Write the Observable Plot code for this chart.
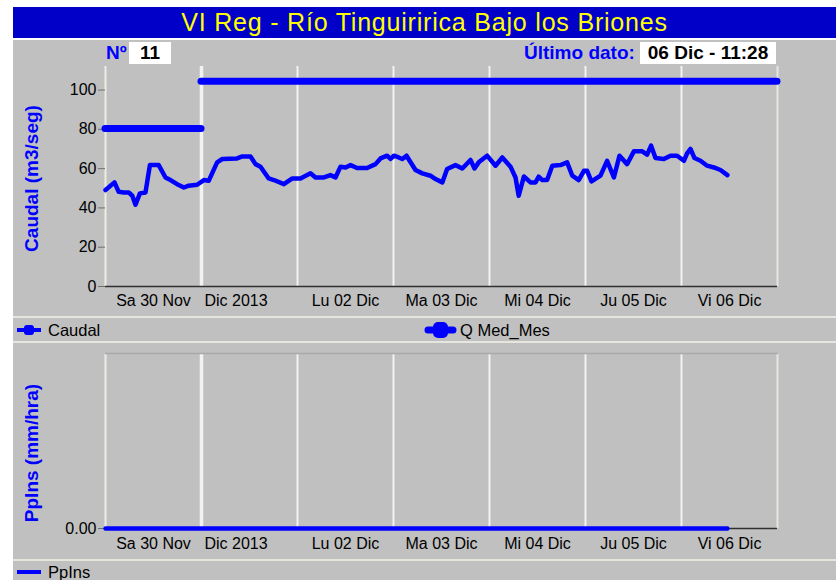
<!DOCTYPE html>
<html><head><meta charset="utf-8">
<script src="https://cdn.jsdelivr.net/npm/d3@7"></script>
<script src="https://cdn.jsdelivr.net/npm/@observablehq/plot@0.6"></script>
<style>
body{margin:0;background:#fff;font-family:"Liberation Sans",Arial,sans-serif;}
#wrap{position:relative;width:836px;height:580px;overflow:hidden;background:#fff;}
.abs{position:absolute;}
#panel{left:13px;top:40px;width:823px;height:540px;background:#c0c0c0;}
#title{left:13px;top:7px;width:823px;height:31px;background:#0000c8;color:#ffff00;font-size:25px;letter-spacing:0.8px;line-height:31px;text-align:center;white-space:nowrap;}
.sep{left:13px;width:823px;height:2px;background:#e6e6de;}
.hdr{font-weight:bold;font-size:19px;line-height:22px;top:42px;white-space:nowrap;}
.box{background:#fff;color:#000;height:22px;}
.leg{font-size:16.5px;line-height:20px;color:#000;white-space:nowrap;}
#plot1,#plot2{left:0;}
#plot1{top:40px;} #plot2{top:342px;}
</style></head>
<body><div id="wrap">
<div id="panel" class="abs"></div>
<div id="title" class="abs">VI Reg - Río Tinguiririca Bajo los Briones</div>
<div class="abs hdr" style="left:106px;color:#0000ff;">Nº</div>
<div class="abs hdr box" style="left:129px;width:42px;padding-left:0;text-align:center;">11</div>
<div class="abs hdr" style="left:524px;color:#0000ff;">Último dato:</div>
<div class="abs hdr box" style="left:640px;width:136px;text-align:center;">06 Dic - 11:28</div>
<div id="plot1" class="abs"></div>
<div class="abs sep" style="top:316px;"></div>
<svg class="abs" style="left:0;top:318px" width="836" height="24">
  <line x1="17" x2="41" y1="12" y2="12" stroke="#0000ff" stroke-width="4"/>
  <rect x="24" y="7" width="10" height="10" rx="3" fill="#0000ff"/>
  <line x1="428" x2="453" y1="12" y2="12" stroke="#0000ff" stroke-width="7" stroke-linecap="round"/>
  <rect x="433" y="4" width="15" height="16" rx="5" fill="#0000ff"/>
</svg>
<div class="abs leg" style="left:48px;top:320px;">Caudal</div>
<div class="abs leg" style="left:460px;top:320px;">Q Med_Mes</div>
<div class="abs sep" style="top:341px;"></div>
<div id="plot2" class="abs"></div>
<div class="abs sep" style="top:559px;"></div>
<svg class="abs" style="left:0;top:562px" width="60" height="20">
  <line x1="17" x2="41" y1="10" y2="10" stroke="#0000ff" stroke-width="4"/>
</svg>
<div class="abs leg" style="left:48px;top:562px;">PpIns</div>
</div>
<script>
// ---- data ----
const startTime = "2013-11-30T00:00";
// hours since Sa 30 Nov 00:00
const caudalHours = [0,2.25,3.3,4.6,5.8,6.7,7.5,8.6,10,11.1,13.3,15,16.25,17.9,19.6,20.8,22.9,24.6,25.8,27.9,29.2,32.9,34.2,36.25,37.5,38.75,40.8,42.1,44.6,46.7,48.75,51.25,52.5,54.6,56.25,57.5,58.75,60,61.25,62.9,65.4,67.5,68.75,70.4,71.25,72.1,73.3,74.2,75.25,77.5,79.2,81.25,82.5,84.2,85.4,87.5,89.2,91.25,92.25,93.3,95.4,97.5,99.2,101.25,102.5,103.3,104.6,106.25,107.5,108.3,109.2,110.4,111.7,113.75,115.4,116.7,118.3,119.6,120.4,121.5,123.75,125.4,127.1,128.5,130.4,132.1,134.2,135.4,136.4,137.5,139.6,141.25,142.9,144.6,145.4,146.25,147.25,148.75,150.4,152.1,153.75,155.47];
const caudalValues = [49.1,53,48.2,47.9,47.9,46.2,41.6,47.4,47.9,61.8,61.8,55.5,54.2,52.1,50.4,51.3,51.8,54.2,53.8,63.2,64.9,65.2,66.2,66.2,62.3,61,55,54.2,52.1,55,55,57.6,55.5,55.5,56.7,55.5,61,60.6,61.8,60.3,60.3,62.3,65.2,66.6,64.9,66.6,65.7,64.9,66.6,59.3,57.6,56.4,54.7,53,59.8,61.8,60.1,64.4,60.1,63.2,66.6,61.5,65.7,61,55.5,46.2,56,53,53,55.9,54.2,54.2,61.5,61.8,63.2,56.4,54.2,58.9,58.9,53.5,56.4,64,55.5,66.6,62.3,68.8,68.8,67.1,71.7,65.4,64.9,66.6,66.6,64,67.8,70,65.4,64,61.5,60.6,59.3,56.7];
const qMedFrom = ["2013-11-30T00:00","2013-12-01T00:00"];
const qMedTo = ["2013-12-01T00:00","2013-12-07T00:00"];
const qMedValues = [80.5,104.5];
const ppTimes = ["2013-11-30T00:00","2013-12-06T11:28"];
const ppValues = [0,0];
const dayTicks = ["2013-11-30T12:00","2013-12-02T12:00","2013-12-03T12:00","2013-12-04T12:00","2013-12-05T12:00","2013-12-06T12:00"];
const dayLabels = ["Sa 30 Nov","Lu 02 Dic","Ma 03 Dic","Mi 04 Dic","Ju 05 Dic","Vi 06 Dic"];
const monthLine = "2013-12-01T00:00";
const monthLabel = "Dic 2013";
const dayLines = ["2013-12-01T00:00","2013-12-02T00:00","2013-12-03T00:00","2013-12-04T00:00","2013-12-05T00:00","2013-12-06T00:00"];
const xDomain = ["2013-11-30T00:00","2013-12-07T00:00"];
const yTicksTop = [0,20,40,60,80,100];
const yTicksBottom = [0];

// ---- build ----
const parse = d3.utcParse("%Y-%m-%dT%H:%M");
const t0 = parse(startTime);
const caudal = caudalHours.map((h,i)=>({t:new Date(+t0 + h*3600e3), v:caudalValues[i]}));
const qmed = qMedValues.map((v,i)=>({a:parse(qMedFrom[i]), b:parse(qMedTo[i]), v}));
const pp = ppTimes.map((t,i)=>({t:parse(t), v:ppValues[i]}));
const ticks = dayTicks.map(parse);
const dom = xDomain.map(parse);
const lines = dayLines.map(parse);
const month = parse(monthLine);
const BLUE = "#0000ff", GRID = "#f2f2ee";
const font = {fontFamily:"'Liberation Sans', Arial, sans-serif", fontSize:"16px", background:"transparent", color:"#000", overflow:"visible"};
const fmtX = d => dayLabels[ticks.findIndex(t => +t === +d)];

const common = (yDomain) => ({
  width:836, marginLeft:105, marginRight:59,
  x:{type:"utc", domain:dom},
  y:{domain:yDomain},
  style:font
});

const bgMarks = () => [
  Plot.ruleX(lines, {stroke:GRID, strokeWidth:d => +d === +month ? 3.5 : 2}),
  Plot.ruleX([dom[1]], {stroke:"#e6e6de", strokeWidth:2}),
  Plot.ruleX([dom[0]], {stroke:"#ecece4", strokeWidth:2})
];

const p1 = Plot.plot({
  ...common([0,112]), height:276, marginTop:26, marginBottom:30,
  marks:[
    ...bgMarks(),
    Plot.axisY({ticks:yTicksTop, tickSize:7, tickPadding:2, stroke:"#707070", label:null, fontSize:16}),
    Plot.axisX({ticks:ticks, tickFormat:fmtX, tickSize:0, tickPadding:8, label:null, fontSize:16}),
    Plot.text([monthLabel], {x:month, frameAnchor:"bottom", textAnchor:"start", lineAnchor:"top", dx:3, dy:8, fontSize:16}),
    Plot.ruleY([0], {stroke:"#303030", strokeWidth:1.5}),
    Plot.ruleY(qmed, {y:"v", x1:"a", x2:"b", stroke:BLUE, strokeWidth:7, strokeLinecap:"round"}),
    Plot.line(caudal, {x:"t", y:"v", stroke:BLUE, strokeWidth:4.5, strokeLinejoin:"round", strokeLinecap:"round"}),
    Plot.text(["Caudal (m3/seg)"], {frameAnchor:"left", textAnchor:"middle", lineAnchor:"middle", rotate:-90, dx:-74, dy:2, fill:BLUE, fontWeight:"bold", fontSize:19})
  ]
});
document.getElementById("plot1").appendChild(p1);

const p2 = Plot.plot({
  ...common([0,1]), height:218, marginTop:11, marginBottom:32,
  marks:[
    ...bgMarks(),
    Plot.frame({anchor:"top", stroke:"#a8a8a8", strokeWidth:1.5}),
    Plot.axisY({ticks:yTicksBottom, tickFormat:d3.format(".2f"), tickSize:7, tickPadding:2, stroke:"#707070", label:null, fontSize:16}),
    Plot.axisX({ticks:ticks, tickFormat:fmtX, tickSize:0, tickPadding:9, label:null, fontSize:16}),
    Plot.text([monthLabel], {x:month, frameAnchor:"bottom", textAnchor:"start", lineAnchor:"top", dx:3, dy:9, fontSize:16}),
    Plot.ruleY([0], {stroke:"#303030", strokeWidth:1.5}),
    Plot.line(pp, {x:"t", y:"v", stroke:BLUE, strokeWidth:4.5}),
    Plot.text(["PpIns (mm/hra)"], {frameAnchor:"left", textAnchor:"middle", lineAnchor:"middle", rotate:-90, dx:-74, dy:12, fill:BLUE, fontWeight:"bold", fontSize:19})
  ]
});
document.getElementById("plot2").appendChild(p2);
</script>
</body></html>
